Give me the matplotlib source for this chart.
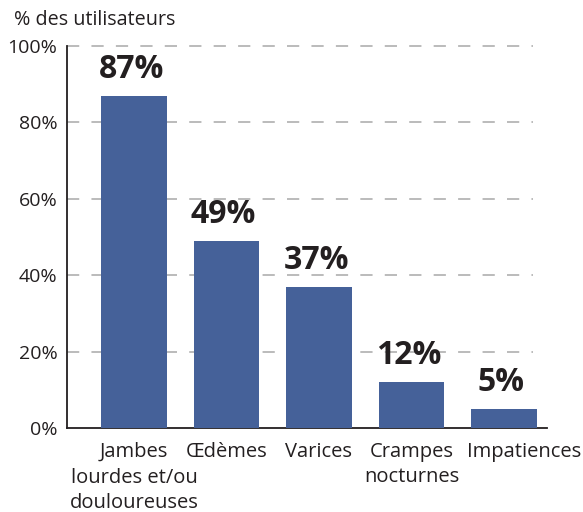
import matplotlib
matplotlib.use("Agg")
import matplotlib.pyplot as plt
import matplotlib.transforms as mtransforms

categories = ["Jambes", "Œdèmes", "Varices", "Crampes\nnocturnes", "Impatiences"]
first_extra = "lourdes et/ou\ndouloureuses"  # rest of the first category label
values = [87, 49, 37, 12, 5]
yticks = [0, 20, 40, 60, 80, 100]
ylabels = ["0%", "20%", "40%", "60%", "80%", "100%"]

plt.rcParams['font.family'] = ['Open Sans', 'DejaVu Sans']
txt_col = "#231f20"
bar_col = "#456199"

fig = plt.figure(figsize=(5.83, 5.12), dpi=100)
ax = fig.add_axes([0.115, 0.164, 0.823, 0.746])

x = list(range(len(values)))
ax.bar(x, values, width=0.71, color=bar_col, zorder=3)

ax.set_xlim(-0.724, 4.465)
ax.set_ylim(0, 100)

# dashed grid, stops a little short of the axis end
for y in yticks[1:]:
    ax.plot([-0.72, 4.314], [y, y], color="#a8a8a8", lw=1.1,
            dashes=(8, 8), zorder=1, clip_on=False)

ax.spines['top'].set_visible(False)
ax.spines['right'].set_visible(False)
ax.spines['left'].set_color(txt_col)
ax.spines['bottom'].set_color(txt_col)
ax.spines['left'].set_linewidth(1.3)
ax.spines['bottom'].set_linewidth(1.3)

pad = 10
lsp = 1.35
ax.set_yticks(yticks)
ax.set_yticklabels(ylabels, fontsize=14, color=txt_col)
ax.set_xticks(x)
ax.set_xticklabels(categories, fontsize=14.5, color=txt_col, linespacing=lsp)
ax.tick_params(axis='y', length=0, pad=7)
ax.tick_params(axis='x', length=0, pad=pad)

# second and third lines of the first label as their own text
ax.annotate(first_extra, (0, 0), xytext=(0, -(pad + 18.7)), textcoords="offset points",
            ha="center", va="top", fontsize=14.5, color=txt_col, linespacing=lsp,
            annotation_clip=False)

# last label pushed right so it does not hit "Crampes"
lbl = ax.get_xticklabels()[-1]
lbl.set_transform(lbl.get_transform() + mtransforms.ScaledTranslation(0.2, 0, fig.dpi_scale_trans))

for xi, v in zip(x, values):
    ax.annotate(f"{v}%", (xi, v), xytext=(-2, 7), textcoords="offset points",
                ha="center", va="bottom", fontsize=23, fontweight="bold", color=txt_col)

fig.text(0.024, 0.96, "% des utilisateurs", fontsize=14.2, color=txt_col, ha="left", va="center")

fig.savefig("out.png", dpi=100)
